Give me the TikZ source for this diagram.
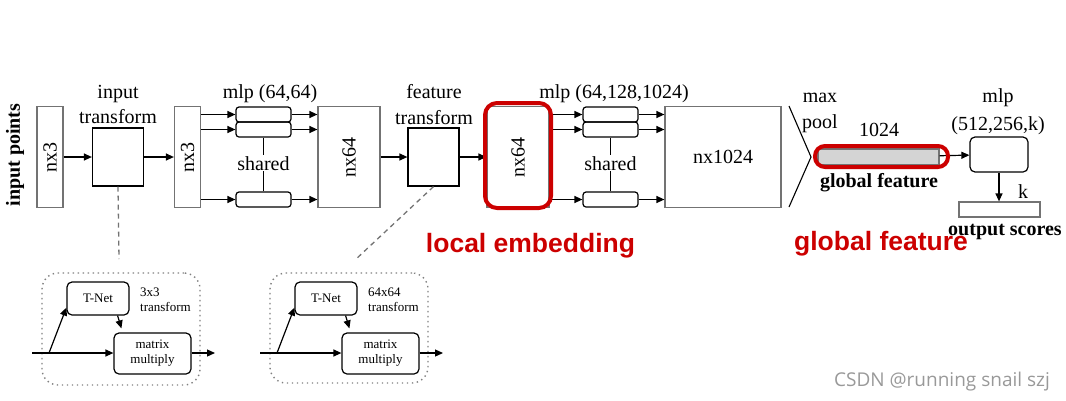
\documentclass[tikz,border=0pt]{standalone}
\usepackage{fontspec}
\setmainfont{Liberation Serif}
\newfontfamily\redsans{Liberation Sans}
\newfontfamily\marksans{Open Sans}
\usepackage{graphicx}
\usepackage{xcolor}
\usetikzlibrary{arrows.meta,positioning,calc}
\definecolor{hired}{RGB}{204,0,0}

\begin{document}
\begin{tikzpicture}[x=1pt, y=-1pt,
    graybox/.style={rectangle, draw=black!55, line width=1.2pt, minimum width=26pt, minimum height=101pt, inner sep=0pt, font=\fontsize{20}{24}\selectfont},
    tbox/.style={rectangle, draw, line width=1.2pt, minimum width=51pt, minimum height=58pt, inner sep=0pt},
    mlpbox/.style={rectangle, rounded corners=3pt, draw, line width=1.2pt, minimum width=55pt, minimum height=15pt, inner sep=0pt},
    txt/.style={inner sep=1pt, anchor=base, font=\fontsize{20}{24}\selectfont},
    btxt/.style={inner sep=1pt, anchor=base, font=\fontsize{20}{24}\selectfont\bfseries},
    hilite/.style={rectangle, draw=hired, line width=4pt, inner sep=0pt},
    redtxt/.style={inner sep=0pt, anchor=base, text=hired, font=\redsans\fontsize{26.5}{30}\selectfont\bfseries},
    inset/.style={rectangle, draw=black!50, line width=1.4pt, dash pattern=on 1.4pt off 3.6pt, rounded corners=16pt, minimum width=158pt, minimum height=112pt},
    smallbox/.style={rectangle, rounded corners=5pt, draw, line width=1.2pt, inner sep=0pt, align=center, font=\fontsize{13}{15}\selectfont},
    stxt/.style={inner sep=0pt, align=left, anchor=west, font=\fontsize{13}{15}\selectfont},
    arrow/.style={-{Triangle[length=8pt, width=7pt]}, line width=1.2pt},
    link/.style={line width=1.2pt},
    guide/.style={draw=black!55, line width=1.3pt, dash pattern=on 5pt off 4pt}
]
\useasboundingbox (0,0) rectangle (1066,400);

% main row
\node[btxt, anchor=center, rotate=90] (inpts) at (15,155) {input points};
\node[graybox] (nx3a) at (50,157) {\rotatebox{90}{nx3}};
\node[tbox] (itrans) at (118,157) {};
\node[txt] (itransa) at (118,98) {input};
\node[txt] (itransb) at (118,123) {transform};
\node[graybox] (nx3b) at (187.5,157) {\rotatebox{90}{nx3}};
\draw[arrow] (nx3a) -- (itrans);
\draw[arrow] (itrans) -- (nx3b);

% mlp (64,64)
\node[mlpbox] (mA1) at (263.5,114.5) {};
\node[mlpbox] (mA2) at (263.5,129.5) {};
\node[mlpbox] (mA3) at (263.5,199.5) {};
\node[txt] (mlpA) at (270,98) {mlp (64,64)};
\node[txt] (sharedA) at (263.5,170) {shared};
\node[graybox, minimum width=62pt] (nx64a) at (349,157) {\rotatebox{90}{nx64}};
\draw[arrow] (nx3b.east |- mA1.west) -- (mA1.west);
\draw[arrow] (nx3b.east |- mA2.west) -- (mA2.west);
\draw[arrow] (nx3b.east |- mA3.west) -- (mA3.west);
\draw[arrow] (mA1.east) -- (mA1.east -| nx64a.west);
\draw[arrow] (mA2.east) -- (mA2.east -| nx64a.west);
\draw[arrow] (mA3.east) -- (mA3.east -| nx64a.west);
\draw[link] (mA2.south) -- (sharedA.north);
\draw[link] (sharedA.south) -- (mA3.north);

% feature transform
\node[tbox] (ftrans) at (433.5,157) {};
\node[txt] (ftransa) at (434,98) {feature};
\node[txt] (ftransb) at (434,124) {transform};
\node[graybox, minimum width=62pt] (nx64b) at (518,157) {\rotatebox{90}{nx64}};
\draw[arrow] (nx64a) -- (ftrans);
\draw[arrow] (ftrans) -- (nx64b);

% mlp (64,128,1024)
\node[mlpbox] (mB1) at (610.5,114.5) {};
\node[mlpbox] (mB2) at (610.5,129.5) {};
\node[mlpbox] (mB3) at (610.5,199.5) {};
\node[txt] (mlpB) at (614,98) {mlp (64,128,1024)};
\node[txt] (sharedB) at (610.5,170) {shared};
\node[graybox, minimum width=116pt] (nx1024) at (723,157) {nx1024};
\draw[arrow] (nx64b.east |- mB1.west) -- (mB1.west);
\draw[arrow] (nx64b.east |- mB2.west) -- (mB2.west);
\draw[arrow] (nx64b.east |- mB3.west) -- (mB3.west);
\draw[arrow] (mB1.east) -- (mB1.east -| nx1024.west);
\draw[arrow] (mB2.east) -- (mB2.east -| nx1024.west);
\draw[arrow] (mB3.east) -- (mB3.east -| nx1024.west);
\draw[link] (mB2.south) -- (sharedB.north);
\draw[link] (sharedB.south) -- (mB3.north);

% max pool and global feature
\draw[line width=1.1pt] (789,106) -- (811,157) -- (789,207);
\node[txt] (maxl) at (820,102) {max};
\node[txt] (pooll) at (820,128) {pool};
\node[txt] (dimgf) at (879,136) {1024};
\node[rectangle, draw=black!55, fill=black!17, line width=1.2pt, minimum width=121pt, minimum height=16pt, inner sep=0pt] (gfbar) at (878.5,157) {};
\node[btxt] (gflbl) at (879,187) {global feature};
\node[mlpbox, rounded corners=5pt, minimum width=58pt, minimum height=35pt] (head) at (999,154.5) {};
\node[txt] (heada) at (998,102) {mlp};
\node[txt] (headb) at (998,130) {(512,256,k)};
\node[rectangle, draw=black!55, line width=1.2pt, minimum width=81pt, minimum height=15pt, inner sep=0pt] (scores) at (999.5,209.5) {};
\node[txt] (kl) at (1023,198) {k};
\node[btxt] (scoresl) at (1005,235) {output scores};
\draw[arrow] (gfbar) -- (head);
\draw[arrow] (head) -- (head.south |- scores.north);

% highlights
\node[hilite, rounded corners=12pt, minimum width=66pt, minimum height=105pt] (hlA) at (518,155.5) {};
\node[hilite, rounded corners=10pt, minimum width=133pt, minimum height=21pt] (hlB) at (881.5,156.5) {};
\node[redtxt] (locall) at (530.5,252) {local embedding};
\node[redtxt] (globall) at (881,250) {global feature};

% insets
\node[inset] (insetA) at (121,329) {};
\node[smallbox, minimum width=62pt, minimum height=33pt] (tnetA) at (98,298.5) {T-Net};
\node[smallbox, minimum width=77pt, minimum height=41pt] (mmA) at (152.5,353.5) {matrix\\multiply};
\node[stxt] (tfA) at (140,300) {3x3\\transform};
\coordinate (inA) at (32,353);
\coordinate (brA) at (49,353);
\coordinate (outA) at (215,353);
\draw[arrow] (inA) -- (inA -| mmA.west);
\draw[arrow] (brA) -- ([yshift=8pt]tnetA.south west);
\draw[arrow] ([xshift=-12pt]tnetA.south east) -- ([xshift=8pt, yshift=4pt]mmA.north west);
\draw[arrow] (mmA.east |- outA) -- (outA);

\node[inset, minimum height=110pt] (insetB) at (349,328) {};
\node[smallbox, minimum width=62pt, minimum height=33pt] (tnetB) at (326,298.5) {T-Net};
\node[smallbox, minimum width=77pt, minimum height=41pt] (mmB) at (380.5,353.5) {matrix\\multiply};
\node[stxt] (tfB) at (368,300) {64x64\\transform};
\coordinate (inB) at (260,353);
\coordinate (brB) at (277,353);
\coordinate (outB) at (443,353);
\draw[arrow] (inB) -- (inB -| mmB.west);
\draw[arrow] (brB) -- ([yshift=8pt]tnetB.south west);
\draw[arrow] ([xshift=-12pt]tnetB.south east) -- ([xshift=8pt, yshift=4pt]mmB.north west);
\draw[arrow] (mmB.east |- outB) -- (outB);

% dashed guides
\coordinate (dashA) at (119,259);
\coordinate (dashB) at (355,260);
\draw[guide] (itrans.south) -- (dashA);
\draw[guide] (ftrans.south) -- (dashB);

\node[inner sep=0pt, anchor=base, text=black!40, font=\marksans\fontsize{19}{22}\selectfont] (mark) at (942,386) {CSDN @running snail szj};
\end{tikzpicture}
\end{document}
